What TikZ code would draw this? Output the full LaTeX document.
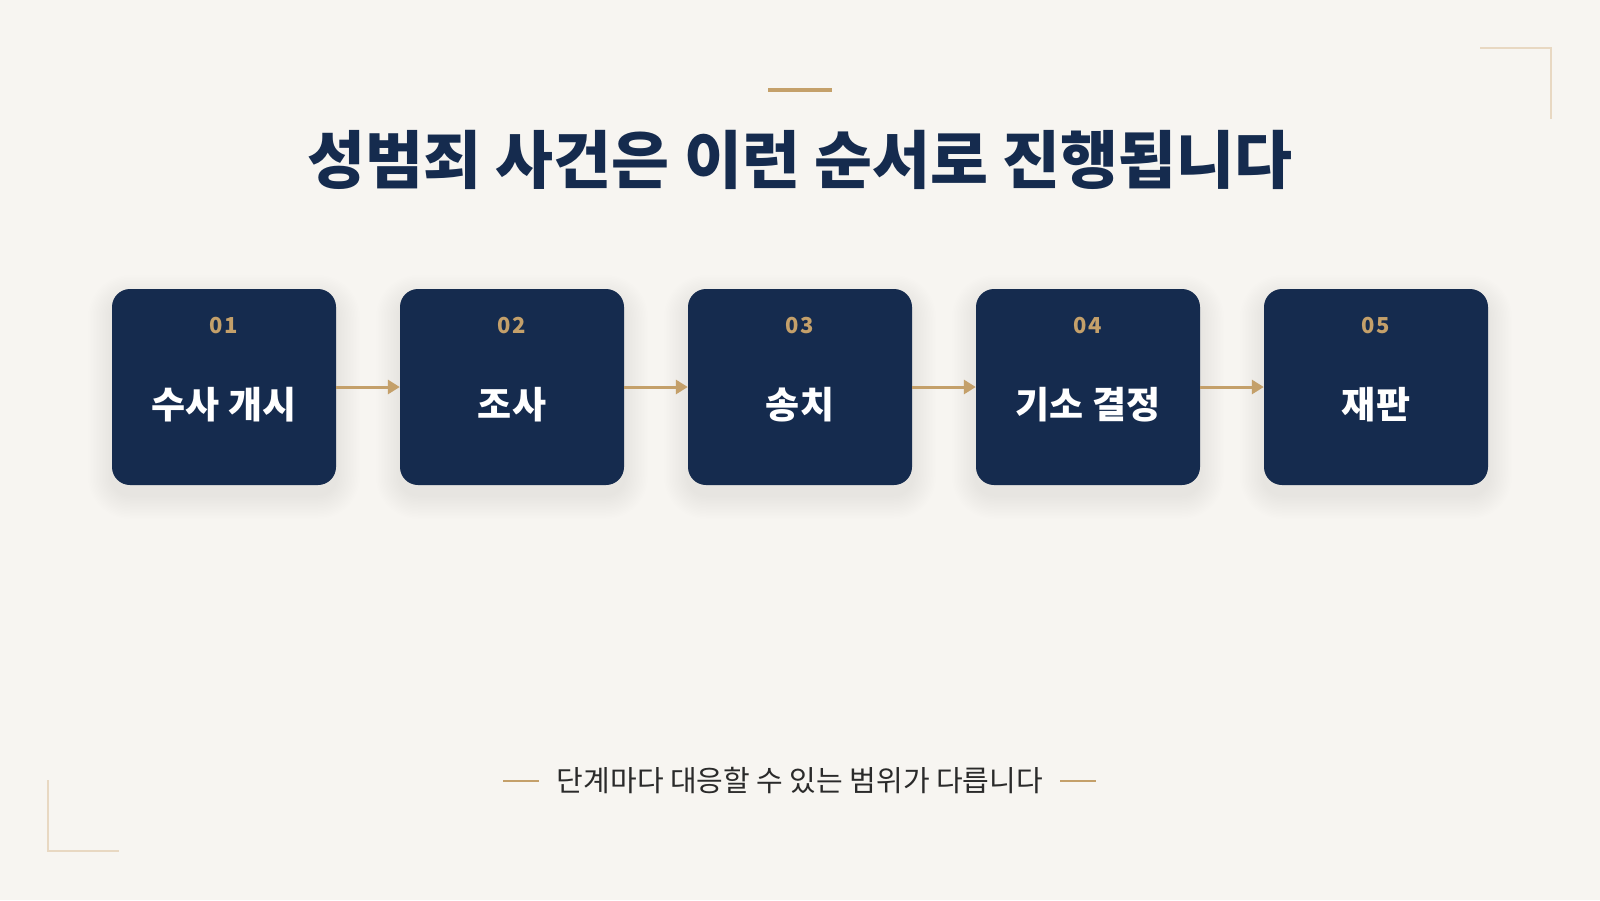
\documentclass[tikz,border=0pt]{standalone}
\usepackage{fontspec}
\setmainfont{Noto Sans CJK KR}
\usetikzlibrary{arrows.meta}
\definecolor{bg}{HTML}{F7F5F1}
\definecolor{navy}{HTML}{152B4E}
\definecolor{gold}{HTML}{C4A06A}
\definecolor{lgold}{HTML}{E8D8C2}
\definecolor{txt}{HTML}{2A2A2A}
\begin{document}
\begin{tikzpicture}[x=1pt,y=-1pt,
  stepbox/.style={fill=navy,rounded corners=18pt,minimum width=224pt,minimum height=196pt,inner sep=0pt},
  numtxt/.style={text=gold,font=\fontsize{22}{26}\selectfont\bfseries\addfontfeature{LetterSpace=8}},
  labtxt/.style={text=white,font=\fontsize{37}{42}\selectfont\bfseries},
  flow/.style={draw=gold,line width=3pt,-{Triangle[length=12pt,width=14pt]}},
  corner/.style={draw=lgold,line width=2pt}]
\fill[bg] (0,0) rectangle (1600,900);
\useasboundingbox (0,0) rectangle (1600,900);
% decorations
\draw[draw=gold,line width=4pt] (768,90) -- (832,90);
\draw[corner] (1480,48) -- (1551,48) -- (1551,119);
\draw[corner] (48,780) -- (48,851) -- (119,851);
% title
\node[text=navy,font=\fontsize{63}{70}\selectfont\bfseries] (title) at (800,160) {성범죄 사건은 이런 순서로 진행됩니다};
% shadows
\foreach \i in {1,...,5}{
  \foreach \k in {1,...,16}{
    \fill[black,opacity=0.005,rounded corners={18pt+\k*1.5pt}]
      ({112+(\i-1)*288-\k*1.5},{289+10-\k*1.5}) rectangle ({336+(\i-1)*288+\k*1.5},{485+10+\k*1.5});
  }
}
% boxes
\foreach \i/\n/\t in {1/01/수사 개시,2/02/조사,3/03/송치,4/04/기소 결정,5/05/재판}{
  \node[stepbox] (b\i) at ({224+(\i-1)*288},387) {};
  \node[numtxt] (n\i) at ({224+(\i-1)*288},326) {\n};
  \node[labtxt] (l\i) at ({224+(\i-1)*288},405) {\t};
}
\foreach \i/\j in {1/2,2/3,3/4,4/5}{
  \draw[flow] (b\i.east) -- (b\j.west);
}
% footer
\node[text=txt,font=\fontsize{29}{33}\selectfont] (foot) at (800,781) {단계마다 대응할 수 있는 범위가 다릅니다};
\coordinate (dl1) at (503,781); \coordinate (dl2) at (539,781);
\coordinate (dr1) at (1060,781); \coordinate (dr2) at (1096,781);
\draw[draw=gold,line width=2pt] (dl1) -- (dl2);
\draw[draw=gold,line width=2pt] (dr1) -- (dr2);
\end{tikzpicture}
\end{document}
